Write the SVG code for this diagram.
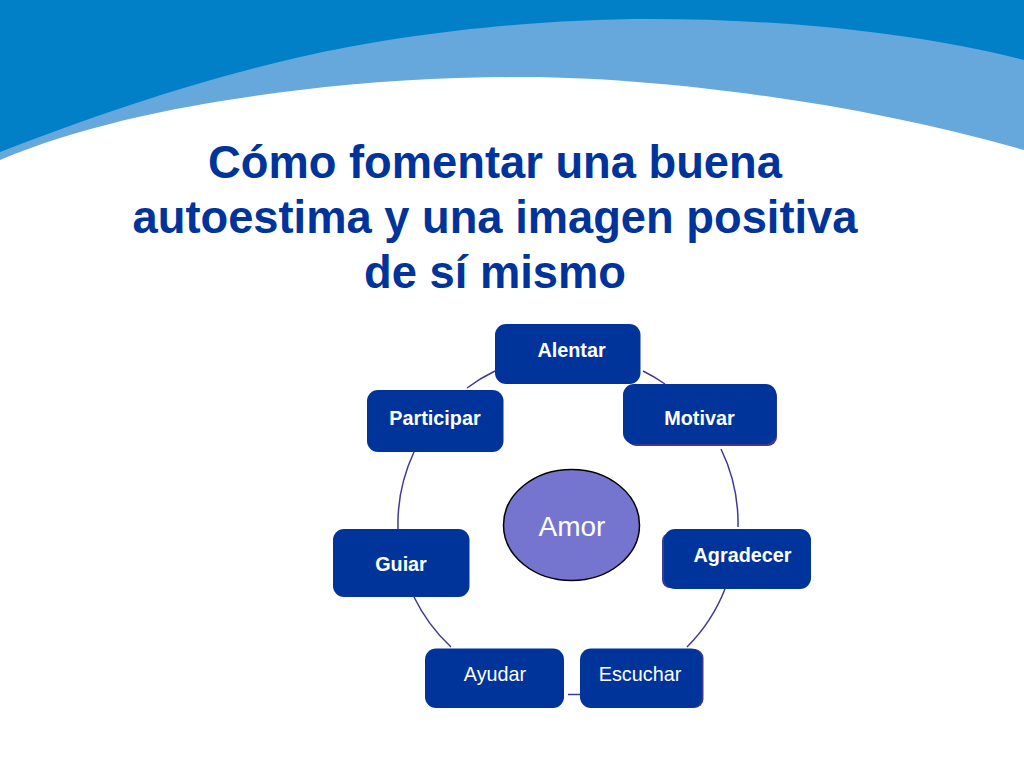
<svg xmlns="http://www.w3.org/2000/svg" width="1024" height="768" viewBox="0 0 1024 768">
<style>
.n{fill:#00349b}
.s{fill:#3e3a94}
.t{font-family:"Liberation Sans",Arial,sans-serif;font-size:19.800px;fill:#fff;text-anchor:middle}
.b{font-weight:bold}
.h{font-family:"Liberation Sans",Arial,sans-serif;font-size:45.300px;font-weight:bold;fill:#00349b;text-anchor:middle}
.c{fill:none;stroke:#3e3a94;stroke-width:1.500}
</style>
<rect width="1024" height="768" fill="#fff"/>
<g id="background">
<path d="M0 0H1024V150C850 100 650 77 522 77C450 77 370 81 300 90C200 102 90 122 0 160Z" fill="#66a7dc"/>
<path d="M0 0H1024V60C920 33 780 19 650 19C530 19 400 34 300 57C200 80 100 113 0 152Z" fill="#0180c8"/>
</g>
<g id="title">
<text class="h" x="495" y="178">Cómo fomentar una buena</text>
<text class="h" x="495" y="233">autoestima y una imagen positiva</text>
<text class="h" x="495" y="288">de sí mismo</text>
</g>
<g id="connectors">
<path class="c" d="M467 388A170 170 0 0 1 495 371"/>
<path class="c" d="M643 371A170 170 0 0 1 665 384"/>
<path class="c" d="M721 449A170 170 0 0 1 738 527"/>
<path class="c" d="M725 589A170 170 0 0 1 687 647"/>
<path class="c" d="M580 694.500H568"/>
<path class="c" d="M451 647A170 170 0 0 1 414 597"/>
<path class="c" d="M398 529A170 170 0 0 1 414 452"/>
</g>
<g id="alentar"><rect class="n" x="495" y="324" width="145.500" height="60" rx="11"/><text class="t b" x="571.500" y="357">Alentar</text></g>
<g id="motivar"><rect class="s" x="627" y="388" width="150" height="58" rx="9"/><rect class="n" x="623" y="384" width="153.500" height="60" rx="11"/><text class="t b" x="699.500" y="425">Motivar</text></g>
<g id="agradecer"><rect class="s" x="662" y="533" width="20" height="55" rx="8"/><rect class="n" x="664" y="529" width="147" height="60" rx="11"/><text class="t b" x="742.500" y="562">Agradecer</text></g>
<g id="escuchar"><rect class="s" x="680" y="649" width="23.500" height="59" rx="9"/><rect class="n" x="580" y="648.500" width="122" height="59.500" rx="11"/><text class="t" x="640" y="681">Escuchar</text></g>
<g id="ayudar"><rect class="n" x="425" y="648.500" width="139" height="59.500" rx="11"/><text class="t" x="495" y="681">Ayudar</text></g>
<g id="guiar"><rect class="n" x="333" y="529" width="136.500" height="68" rx="11"/><text class="t b" x="401" y="571">Guiar</text></g>
<g id="participar"><rect class="n" x="367" y="390" width="136.500" height="62" rx="11"/><text class="t b" x="435" y="425">Participar</text></g>
<g id="amor"><ellipse cx="571.500" cy="525" rx="68" ry="55.500" fill="#7575d0" stroke="#000" stroke-width="1.500"/><text class="t" x="572" y="536" style="font-size:28px">Amor</text></g>
</svg>
